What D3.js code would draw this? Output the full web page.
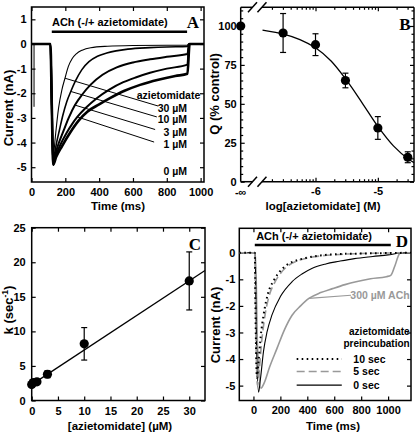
<!DOCTYPE html>
<html><head><meta charset="utf-8">
<script src="https://cdn.jsdelivr.net/npm/d3@7"></script>
<style>
body{margin:0;background:#fff;}
svg{display:block;}
</style></head><body>
<svg id="c" width="416" height="434"></svg>
<script>
// ---------- Panel A data: current traces (time ms, current nA) ----------
const traceA_30 = [[0,0],[112,0],[120,-2.5],[128,-4.85],[134,-4.3],[145,-3.5],[160,-2.6],[180,-1.85],[198,-1.39],[218,-0.91],[240,-0.6],[265,-0.4],[300,-0.25],[350,-0.15],[450,-0.09],[600,-0.06],[800,-0.05],[922,-0.05],[928,0],[1020,0]];
const traceA_10 = [[0,0],[112,0],[120,-2.5],[128,-4.85],[138,-4.4],[150,-3.95],[165,-3.5],[185,-2.9],[208,-2.35],[234,-1.9],[260,-1.5],[297,-1.05],[340,-0.72],[390,-0.5],[445,-0.37],[500,-0.28],[570,-0.21],[700,-0.15],[800,-0.12],[922,-0.1],[930,0],[1020,0]];
const traceA_3 = [[0,0],[112,0],[120,-2.5],[128,-4.9],[140,-4.5],[160,-4.05],[188,-3.55],[220,-3.0],[257,-2.48],[300,-2.05],[350,-1.65],[420,-1.25],[504,-0.95],[600,-0.75],[701,-0.62],[800,-0.52],[922,-0.41],[932,0],[1020,0]];
const traceA_1 = [[0,0],[112,0],[120,-2.5],[128,-4.9],[140,-4.6],[170,-4.1],[208,-3.6],[240,-3.25],[271,-2.96],[320,-2.6],[386,-2.2],[460,-1.85],[543,-1.55],[620,-1.35],[701,-1.17],[800,-1.0],[922,-0.84],[932,0],[1020,0]];
const traceA_0 = [[0,0],[112,0],[120,-2.5],[128,-4.9],[145,-4.6],[180,-4.15],[228,-3.6],[280,-3.1],[330,-2.75],[400,-2.45],[464,-2.2],[550,-1.9],[642,-1.66],[750,-1.45],[850,-1.3],[922,-1.21],[935,0],[1020,0]];
const spikeA = [[15,0],[15,-2.55]];
const concLabelsA = ["30 µM","10 µM","3 µM","1 µM","0 µM"];
const concLabelY_A = [-2.76,-3.19,-3.72,-4.23,-5.33];
const pointerLinesA = [[[198,-1.39],[750,-2.52]],[[234,-1.93],[741,-2.96]],[[257,-2.48],[731,-3.47]],[[271,-2.96],[725,-3.98]]];
const achBarA = [120,920];
const xTicksA = [0,200,400,600,800,1000];
const yTicksA = [1,0,-1,-2,-3,-4,-5];

// ---------- Panel B data: log[azietomidate] vs Q (% control) ----------
const logConcB = [-6.52,-6.0,-5.52,-5.0,-4.52];
const qB = [95.5,88,65,34.5,15.7];
const qErrB = [12.5,7,4.7,7.3,3.5];
const qControlB = 100;
const fitLogB = [-6.85,-6.5,-6.25,-6.0,-5.75,-5.5,-5.25,-5.0,-4.75,-4.5,-4.42];
const fitQB = [97.3,94.6,91.3,86.0,77.5,65.0,50.5,35.5,23.0,14.2,12.3];
const xTicksB = [-6,-5];
const yTicksB = [0,25,50,75,100];

// ---------- Panel C data: [azietomidate] (µM) vs k (sec^-1) ----------
const concC = [0,0.3,1,3,10,30];
const kC = [2.3,2.6,2.7,3.8,8.2,17.3];
const kErrC = [0.3,0.3,0.3,0.5,2.35,4.2];
const fitC = [[0,2.3],[33,18.8]];
const xTicksC = [0,5,10,15,20,25,30];
const yTicksC = [0,5,10,15,20,25];

// ---------- Panel D data: preincubation traces (time ms, current nA) ----------
const traceD_10s = [[-105,0],[10,0],[16,-2.5],[26,-4.7],[38,-4.1],[55,-3.1],[75,-2.35],[110,-1.5],[150,-1.05],[200,-0.68],[250,-0.45],[320,-0.29],[387,-0.2],[500,-0.1],[637,-0.05],[800,-0.03],[1170,0]];
const traceD_5s = [[-105,0],[10,0],[18,-3.0],[30,-5.0],[42,-4.5],[60,-3.4],[80,-2.55],[115,-1.65],[155,-1.15],[205,-0.75],[260,-0.48],[330,-0.3],[400,-0.2],[500,-0.12],[650,-0.06],[800,-0.03],[1170,0]];
const traceD_0s = [[-105,0],[12,0],[22,-3.2],[38,-5.25],[52,-4.75],[75,-3.7],[100,-3.0],[137,-2.35],[200,-1.65],[287,-1.09],[360,-0.8],[437,-0.58],[537,-0.42],[637,-0.32],[750,-0.22],[887,-0.14],[1000,-0.08],[1080,-0.02],[1170,0]];
const traceD_300ACh = [[-105,0],[15,0],[30,-3.5],[55,-5.1],[80,-4.9],[120,-4.3],[175,-3.6],[230,-2.9],[287,-2.35],[350,-2.0],[412,-1.72],[500,-1.5],[587,-1.35],[680,-1.2],[762,-1.09],[870,-0.98],[987,-0.9],[1020,-0.85],[1050,-0.5],[1085,-0.03],[1100,0],[1170,0]];
const legendD = ["10 sec","5 sec","0 sec"];
const legendY_D = [-4.0,-4.47,-4.98];
const achBarD = [10,1020];
const xTicksD = [0,200,400,600,800,1000];
const yTicksD = [0,-1,-2,-3,-4,-5];

// ---------- drawing ----------
const FONT = '"Liberation Sans", Arial, Helvetica, sans-serif';
const SERIF = '"Liberation Serif", "Times New Roman", serif';
const TICKFS = 11, TITLEFS = 11.5, YTITLEFS = 13, ANNFS = 10.5;
const svg = d3.select('#c');

function styleAxis(sel){
  sel.attr('font-family',FONT).attr('font-size',TICKFS).attr('font-weight','bold');
  sel.select('.domain').remove();
  sel.selectAll('line').attr('stroke','#000').attr('stroke-width',1.2);
  sel.selectAll('text').attr('fill','#000');
}
const fmt = d => String(d);
function axes(g, x, y, o){
  const [x0,x1]=x.range(), [y0,y1]=y.range();
  styleAxis(g.append('g').attr('transform',`translate(0,${y0})`)
    .call(d3.axisBottom(x).tickValues(o.xt).tickSize(-4).tickPadding(o.xp).tickFormat(fmt)));
  styleAxis(g.append('g').attr('transform',`translate(0,${y1})`)
    .call(d3.axisTop(x).tickValues(o.xt).tickSize(-4).tickFormat('')));
  styleAxis(g.append('g').attr('transform',`translate(${x0},0)`)
    .call(d3.axisLeft(y).tickValues(o.yt).tickSize(-4).tickPadding(o.yp).tickFormat(fmt)));
  styleAxis(g.append('g').attr('transform',`translate(${x1},0)`)
    .call(d3.axisRight(y).tickValues(o.yt).tickSize(-4).tickFormat('')));
  if (o.xm){
    styleAxis(g.append('g').attr('transform',`translate(0,${y0})`).call(d3.axisBottom(x).tickValues(o.xm).tickSize(-2.5).tickFormat('')));
    styleAxis(g.append('g').attr('transform',`translate(0,${y1})`).call(d3.axisTop(x).tickValues(o.xm).tickSize(-2.5).tickFormat('')));
  }
  if (o.ym){
    styleAxis(g.append('g').attr('transform',`translate(${x0},0)`).call(d3.axisLeft(y).tickValues(o.ym).tickSize(-2.5).tickFormat('')));
    styleAxis(g.append('g').attr('transform',`translate(${x1},0)`).call(d3.axisRight(y).tickValues(o.ym).tickSize(-2.5).tickFormat('')));
  }
  if (!o.noFrame){
    g.append('rect').attr('x',x0).attr('y',y1).attr('width',x1-x0).attr('height',y0-y1)
      .attr('fill','none').attr('stroke','#000').attr('stroke-width',1.5);
  }
}
function text(g, s, x, y, opt={}){
  return g.append('text').attr('x',x).attr('y',y).text(s)
    .attr('font-family',opt.family||FONT).attr('font-size',opt.fs||TITLEFS)
    .attr('font-weight','bold').attr('fill',opt.fill||'#000')
    .attr('text-anchor',opt.anchor||'middle');
}
function vtext(g, s, x, y, fs){
  return g.append('text').attr('transform',`translate(${x},${y}) rotate(-90)`).text(s)
    .attr('font-family',FONT).attr('font-size',fs||YTITLEFS).attr('font-weight','bold')
    .attr('text-anchor','middle');
}

// ===== Panel A =====
{
  const g = svg.append('g');
  const x = d3.scaleLinear([0,1020],[31.5,204]);
  const y = d3.scaleLinear([-5.6,1.5],[182,7]);
  axes(g,x,y,{xt:xTicksA,yt:yTicksA,xp:6,yp:5});
  const line = d3.line().x(d=>x(d[0])).y(d=>y(d[1])).curve(d3.curveMonotoneX);
  const tr = [[traceA_0,2.6],[traceA_1,2.0],[traceA_3,2.0],[traceA_10,1.6],[traceA_30,1.1]];
  tr.forEach(([d,w])=>g.append('path').attr('d',line(d)).attr('fill','none').attr('stroke','#000').attr('stroke-width',w));
  g.append('path').attr('d',d3.line().x(d=>x(d[0])).y(d=>y(d[1]))(spikeA)).attr('stroke','#000').attr('stroke-width',1);
  pointerLinesA.forEach(p=>g.append('line').attr('x1',x(p[0][0])).attr('y1',y(p[0][1])).attr('x2',x(p[1][0])).attr('y2',y(p[1][1])).attr('stroke','#000').attr('stroke-width',1));
  text(g,'azietomidate',x(998),y(-2.23),{fs:ANNFS,anchor:'end'});
  concLabelsA.forEach((s,i)=>text(g,s,x(920),y(concLabelY_A[i]),{fs:ANNFS,anchor:'end'}));
  g.append('line').attr('x1',x(achBarA[0])).attr('x2',x(achBarA[1])).attr('y1',y(0.5)).attr('y2',y(0.5)).attr('stroke','#000').attr('stroke-width',2.5);
  text(g,'ACh (-/+ azietomidate)',x(121),y(0.71),{fs:11,anchor:'start'});
  text(g,'A',193,28,{family:SERIF,fs:17});
  text(g,'Time (ms)',118,209.5);
  vtext(g,'Current (nA)',13,108);
}

// ===== Panel B =====
{
  const g = svg.append('g');
  const x = d3.scaleLinear([-7.2,-4.42],[240.7,414]);
  const y = d3.scaleLinear([0,112],[181.7,7.3]);
  const minorX = [];
  [-7,-6,-5].forEach(e=>{for(let m=2;m<=9;m++){const v=e+Math.log10(m); if(v>-6.86 && v<-4.42) minorX.push(v);}});
  const minorY = d3.range(5,111,5).filter(v=>v%25!==0);
  axes(g,x,y,{xt:xTicksB,yt:yTicksB,xp:6,yp:4,xm:minorX,ym:minorY,noFrame:true});
  const [x0,x1]=x.range(), [y0,y1]=y.range();
  const bLo = -7.011, bHi = -6.859;
  const fr = g.append('g').attr('stroke','#000').attr('stroke-width',1.5).attr('fill','none');
  fr.append('line').attr('x1',x0).attr('x2',x0).attr('y1',y0).attr('y2',y1);
  fr.append('line').attr('x1',x1).attr('x2',x1).attr('y1',y0).attr('y2',y1);
  [y0,y1].forEach(yy=>{
    fr.append('line').attr('x1',x0).attr('x2',x(bLo)).attr('y1',yy).attr('y2',yy);
    fr.append('line').attr('x1',x(bHi)).attr('x2',x1).attr('y1',yy).attr('y2',yy);
    [bLo,bHi].forEach(b=>fr.append('line').attr('x1',x(b)-4.5).attr('y1',yy+5).attr('x2',x(b)+4.5).attr('y2',yy-5));
  });
  text(g,'-∞',x0,y0+14,{fs:TICKFS});
  const fit = d3.line().x((d,i)=>x(fitLogB[i])).y(d=>y(d)).curve(d3.curveCatmullRom);
  g.append('path').attr('d',fit(fitQB)).attr('fill','none').attr('stroke','#000').attr('stroke-width',1.3);
  logConcB.forEach((c,i)=>{
    const xx=x(c), t=y(qB[i]+qErrB[i]), b=y(qB[i]-qErrB[i]);
    g.append('line').attr('x1',xx).attr('x2',xx).attr('y1',t).attr('y2',b).attr('stroke','#000').attr('stroke-width',1.2);
    [t,b].forEach(v=>g.append('line').attr('x1',xx-3).attr('x2',xx+3).attr('y1',v).attr('y2',v).attr('stroke','#000').attr('stroke-width',1.2));
    g.append('circle').attr('cx',xx).attr('cy',y(qB[i])).attr('r',4.6).attr('fill','#000');
  });
  g.append('circle').attr('cx',x0).attr('cy',y(qControlB)).attr('r',4.6).attr('fill','#000');
  text(g,'B',405,30,{family:SERIF,fs:17});
  text(g,'log[azietomidate] (M)',323,209.5);
  vtext(g,'Q (% control)',219,94);
}

// ===== Panel C =====
{
  const g = svg.append('g');
  const x = d3.scaleLinear([0,33],[31.7,205]);
  const y = d3.scaleLinear([0,25],[400.5,227.7]);
  axes(g,x,y,{xt:xTicksC,yt:yTicksC,xp:7,yp:6});
  g.append('line').attr('x1',x(fitC[0][0])).attr('y1',y(fitC[0][1])).attr('x2',x(fitC[1][0])).attr('y2',y(fitC[1][1])).attr('stroke','#000').attr('stroke-width',1.3);
  concC.forEach((c,i)=>{
    const xx=x(c), t=y(kC[i]+kErrC[i]), b=y(kC[i]-kErrC[i]);
    g.append('line').attr('x1',xx).attr('x2',xx).attr('y1',t).attr('y2',b).attr('stroke','#000').attr('stroke-width',1.2);
    [t,b].forEach(v=>g.append('line').attr('x1',xx-3).attr('x2',xx+3).attr('y1',v).attr('y2',v).attr('stroke','#000').attr('stroke-width',1.2));
    g.append('circle').attr('cx',xx).attr('cy',y(kC[i])).attr('r',4.6).attr('fill','#000');
  });
  text(g,'C',195,250,{family:SERIF,fs:17});
  text(g,'[azietomidate] (µM)',120,430);
  const t = g.append('text').attr('transform','translate(13,310) rotate(-90)')
    .attr('font-family',FONT).attr('font-size',YTITLEFS).attr('font-weight','bold').attr('text-anchor','middle');
  t.append('tspan').text('k (sec');
  t.append('tspan').text('-1').attr('font-size',8.5).attr('dy',-5);
  t.append('tspan').text(')').attr('dy',5);
}

// ===== Panel D =====
{
  const g = svg.append('g');
  const x = d3.scaleLinear([-105,1170],[239.3,411]);
  const y = d3.scaleLinear([-5.56,0.92],[400.5,228.3]);
  axes(g,x,y,{xt:xTicksD,yt:yTicksD,xp:6,yp:4});
  const line = d3.line().x(d=>x(d[0])).y(d=>y(d[1])).curve(d3.curveMonotoneX);
  const GRAY = '#999';
  g.append('path').attr('d',line(traceD_300ACh)).attr('fill','none').attr('stroke',GRAY).attr('stroke-width',1.6);
  g.append('path').attr('d',line(traceD_0s)).attr('fill','none').attr('stroke','#000').attr('stroke-width',1.1);
  g.append('path').attr('d',line(traceD_5s)).attr('fill','none').attr('stroke',GRAY).attr('stroke-width',1.6).attr('stroke-dasharray','8,4');
  g.append('path').attr('d',line(traceD_10s)).attr('fill','none').attr('stroke','#000').attr('stroke-width',2).attr('stroke-dasharray','1.6,3.4');
  g.append('line').attr('x1',x(412)).attr('y1',y(-1.72)).attr('x2',x(724)).attr('y2',y(-1.6)).attr('stroke',GRAY).attr('stroke-width',1.2);
  text(g,'300 µM ACh',x(1160),y(-1.74),{fs:ANNFS,anchor:'end',fill:GRAY});
  text(g,'azietomidate',x(1160),y(-3.08),{fs:10,anchor:'end'});
  text(g,'preincubation',x(1160),y(-3.53),{fs:10,anchor:'end'});
  const styles = [{s:'#000',w:2,d:'1.6,3.4'},{s:GRAY,w:1.6,d:'8,4'},{s:'#000',w:1.1,d:null}];
  legendD.forEach((lab,i)=>{
    const ly = y(legendY_D[i]);
    g.append('line').attr('x1',x(321)).attr('x2',x(656)).attr('y1',ly).attr('y2',ly)
      .attr('stroke',styles[i].s).attr('stroke-width',styles[i].w).attr('stroke-dasharray',styles[i].d);
    text(g,lab,x(742),ly+3.5,{fs:ANNFS,anchor:'start'});
  });
  g.append('line').attr('x1',x(achBarD[0])).attr('x2',x(achBarD[1])).attr('y1',y(0.29)).attr('y2',y(0.29)).attr('stroke','#000').attr('stroke-width',2.5);
  text(g,'ACh (-/+ azietomidate)',x(20),y(0.48),{fs:11,anchor:'start'});
  text(g,'D',402,247,{family:SERIF,fs:17});
  text(g,'Time (ms)',333,430);
  vtext(g,'Current (nA)',220,325);
}
</script>
</body></html>
